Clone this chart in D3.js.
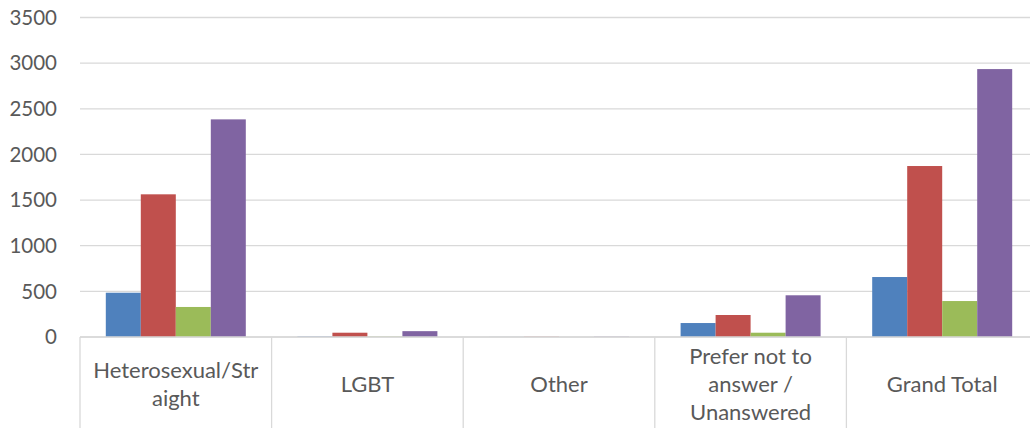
<!DOCTYPE html>
<html>
<head>
<meta charset="utf-8">
<script src="https://cdn.jsdelivr.net/npm/d3@7"></script>
<style>
    body { margin: 0; background: #fff; }
    text { font-family: "Lato", "Open Sans", sans-serif; fill: #595959; }
</style>
</head>
<body>
<div id="chart"></div>
<script>
var categories = ["Heterosexual/Straight", "LGBT", "Other", "Prefer not to answer / Unanswered", "Grand Total"];
var categoryLines = [["Heterosexual/Str", "aight"], ["LGBT"], ["Other"], ["Prefer not to", "answer /", "Unanswered"], ["Grand Total"]];
var seriesNames = ["Series 1", "Series 2", "Series 3", "Series 4"];
var series1 = [485, 5, 1, 153, 657];
var series2 = [1563, 47, 3, 241, 1873];
var series3 = [329, 4, 0, 47, 394];
var series4 = [2384, 64, 3, 457, 2935];
var yTicks = [0, 500, 1000, 1500, 2000, 2500, 3000, 3500];

var colors = ["#4f81bd", "#c0504d", "#9bbb59", "#8064a2"];
var allSeries = [series1, series2, series3, series4];

var width = 1030, height = 428;
var margin = { top: 17.5, left: 80, bottom: 91 };
var bandW = 191.6;

var svg = d3.select("#chart").append("svg")
    .attr("width", width)
    .attr("height", height);

var xScale = d3.scaleBand()
    .domain(categories)
    .range([margin.left, margin.left + bandW * categories.length])
    .padding(0);

var xInner = d3.scaleBand()
    .domain(seriesNames)
    .range([25.8, bandW - 25.8])
    .padding(0);

var yScale = d3.scaleLinear()
    .domain([0, 3500])
    .range([height - margin.bottom, margin.top]);

// gridlines
svg.append("g")
    .selectAll("line")
    .data(yTicks)
    .enter()
    .append("line")
    .attr("x1", margin.left)
    .attr("x2", margin.left + bandW * categories.length)
    .attr("y1", function(d) { return yScale(d); })
    .attr("y2", function(d) { return yScale(d); })
    .attr("stroke", "#d9d9d9")
    .attr("stroke-width", 1.3);

// y tick labels
svg.append("g")
    .selectAll("text")
    .data(yTicks)
    .enter()
    .append("text")
    .attr("x", 57)
    .attr("y", function(d) { return yScale(d); })
    .attr("dy", "0.35em")
    .attr("text-anchor", "end")
    .style("font-size", "20.5px")
    .text(function(d) { return d; });

// bars
var groups = svg.append("g")
    .selectAll("g")
    .data(categories)
    .enter()
    .append("g")
    .attr("transform", function(d) { return "translate(" + xScale(d) + ",0)"; });

groups.selectAll("rect")
    .data(function(d, i) {
        return seriesNames.map(function(s, j) { return { name: s, value: allSeries[j][i], idx: j }; });
    })
    .enter()
    .append("rect")
    .attr("x", function(d) { return xInner(d.name); })
    .attr("width", xInner.bandwidth())
    .attr("y", function(d) { return yScale(d.value); })
    .attr("height", function(d) { return yScale(0) - yScale(d.value); })
    .attr("fill", function(d) { return colors[d.idx]; });

// category axis: baseline + separators
var base = yScale(0);
svg.append("line")
    .attr("x1", margin.left)
    .attr("x2", margin.left + bandW * categories.length)
    .attr("y1", base)
    .attr("y2", base)
    .attr("stroke", "#d9d9d9")
    .attr("stroke-width", 1.3);

var seps = categories.map(function(d) { return xScale(d); })
    .concat([margin.left + bandW * categories.length]);

svg.append("g")
    .selectAll("line")
    .data(seps)
    .enter()
    .append("line")
    .attr("x1", function(d) { return d; })
    .attr("x2", function(d) { return d; })
    .attr("y1", base)
    .attr("y2", height)
    .attr("stroke", "#d9d9d9")
    .attr("stroke-width", 1.3);

// category labels
var labelCenter = 384, lineH = 28;
svg.append("g")
    .selectAll("text")
    .data(categories)
    .enter()
    .append("text")
    .attr("text-anchor", "middle")
    .style("font-size", "22px")
    .each(function(d, i) {
        var lines = categoryLines[i];
        var t = d3.select(this);
        var x = xScale(d) + xScale.bandwidth() / 2;
        lines.forEach(function(line, k) {
            t.append("tspan")
                .attr("x", x)
                .attr("y", labelCenter + (k - (lines.length - 1) / 2) * lineH)
                .attr("dy", "0.35em")
                .text(line);
        });
    });
</script>
</body>
</html>
